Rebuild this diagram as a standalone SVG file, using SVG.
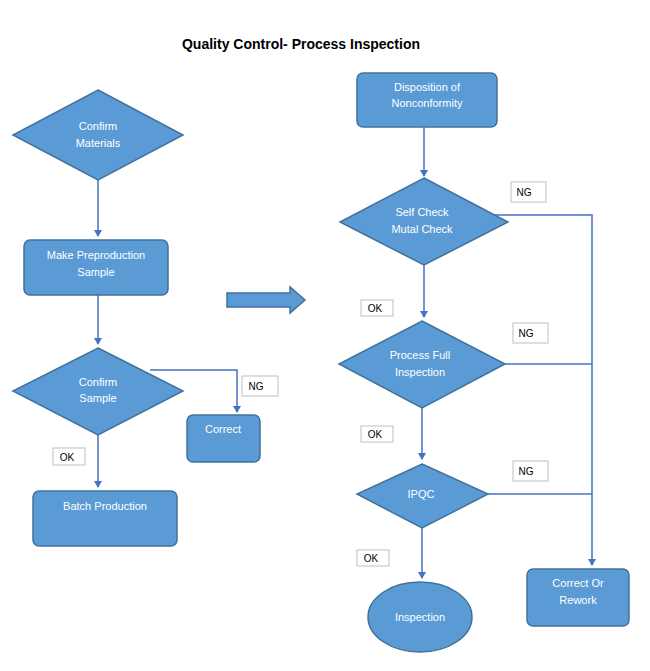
<svg xmlns="http://www.w3.org/2000/svg" width="650" height="671" viewBox="0 0 650 671">
<style>
.n{fill:#5b9bd5;stroke:#41719c;stroke-width:1.5}
.t{fill:#fff;font-family:"Liberation Sans",Arial,sans-serif;font-size:11px;text-anchor:middle}
.l{fill:#fff;stroke:#bfbfbf;stroke-width:1}
.lt{fill:#000;font-family:"Liberation Sans",Arial,sans-serif;font-size:10px;text-anchor:middle}
.c{fill:none;stroke:#4472c4;stroke-width:1.5}
</style>
<defs><marker id="a" markerWidth="8" markerHeight="8" refX="6" refY="4" orient="auto" markerUnits="userSpaceOnUse"><path d="M0,0 L7,4 L0,8 Z" fill="#4472c4"/></marker></defs>
<rect width="650" height="671" fill="#fff"/>
<text x="301" y="49" font-family="Liberation Sans,Arial,sans-serif" font-size="14" font-weight="bold" text-anchor="middle">Quality Control- Process Inspection</text>
<g id="connectors">
<path class="c" d="M98,180 V236" marker-end="url(#a)"/>
<path class="c" d="M98,295 V344" marker-end="url(#a)"/>
<path class="c" d="M150,370 H237 V412" marker-end="url(#a)"/>
<path class="c" d="M98,435 V487" marker-end="url(#a)"/>
<path class="c" d="M424,127 V176" marker-end="url(#a)"/>
<path class="c" d="M424,265 V317" marker-end="url(#a)"/>
<path class="c" d="M422,408 V459" marker-end="url(#a)"/>
<path class="c" d="M422,528 V578" marker-end="url(#a)"/>
<path class="c" d="M476,215 H592 V565" marker-end="url(#a)"/>
<path class="c" d="M505,364 H592"/>
<path class="c" d="M488,494 H592"/>
</g>
<g id="bigarrow"><path class="n" d="M227,293 H290 V287 L305,300 L290,313 V307 H227 Z"/></g>
<g id="confirmMaterials"><path class="n" d="M98,90 L183,135 L98,180 L13,135 Z"/><text class="t" x="98" y="130">Confirm</text><text class="t" x="98" y="147">Materials</text></g>
<g id="preproduction"><rect class="n" x="24" y="240" width="144" height="55" rx="6"/><text class="t" x="96" y="259">Make Preproduction</text><text class="t" x="96" y="276">Sample</text></g>
<g id="confirmSample"><path class="n" d="M98,348 L183,391 L98,435 L13,391 Z"/><text class="t" x="98" y="386">Confirm</text><text class="t" x="98" y="402">Sample</text></g>
<g id="ng1"><rect class="l" x="242" y="376" width="36" height="20"/><text class="lt" x="256" y="390">NG</text></g>
<g id="correct"><rect class="n" x="187" y="415" width="73" height="47" rx="6"/><text class="t" x="223" y="433">Correct</text></g>
<g id="ok1"><rect class="l" x="53" y="448" width="32" height="17"/><text class="lt" x="67" y="461">OK</text></g>
<g id="batch"><rect class="n" x="33" y="491" width="144" height="55" rx="6"/><text class="t" x="105" y="510">Batch Production</text></g>
<g id="disposition"><rect class="n" x="357" y="73" width="140" height="54" rx="6"/><text class="t" x="427" y="91">Disposition of</text><text class="t" x="427" y="107">Nonconformity</text></g>
<g id="selfcheck"><path class="n" d="M424,178 L508,222 L424,265 L340,222 Z"/><text class="t" x="422" y="216">Self Check</text><text class="t" x="422" y="233">Mutal Check</text></g>
<g id="ng2"><rect class="l" x="511" y="182" width="35" height="20"/><text class="lt" x="524" y="196">NG</text></g>
<g id="ok2"><rect class="l" x="361" y="300" width="32" height="16"/><text class="lt" x="375" y="312">OK</text></g>
<g id="processfull"><path class="n" d="M422,321 L505,364 L422,408 L339,364 Z"/><text class="t" x="420" y="359">Process Full</text><text class="t" x="420" y="376">Inspection</text></g>
<g id="ng3"><rect class="l" x="513" y="323" width="35" height="20"/><text class="lt" x="526" y="337">NG</text></g>
<g id="ok3"><rect class="l" x="361" y="426" width="32" height="16"/><text class="lt" x="375" y="438">OK</text></g>
<g id="ipqc"><path class="n" d="M422,464 L488,494 L422,528 L357,494 Z"/><text class="t" x="421" y="498">IPQC</text></g>
<g id="ng4"><rect class="l" x="513" y="461" width="35" height="20"/><text class="lt" x="526" y="475">NG</text></g>
<g id="ok4"><rect class="l" x="357" y="550" width="32" height="16"/><text class="lt" x="371" y="562">OK</text></g>
<g id="inspection"><ellipse class="n" cx="420" cy="617" rx="52" ry="35"/><text class="t" x="420" y="621">Inspection</text></g>
<g id="rework"><rect class="n" x="527" y="569" width="102" height="57" rx="6"/><text class="t" x="578" y="587">Correct Or</text><text class="t" x="578" y="604">Rework</text></g>
</svg>
